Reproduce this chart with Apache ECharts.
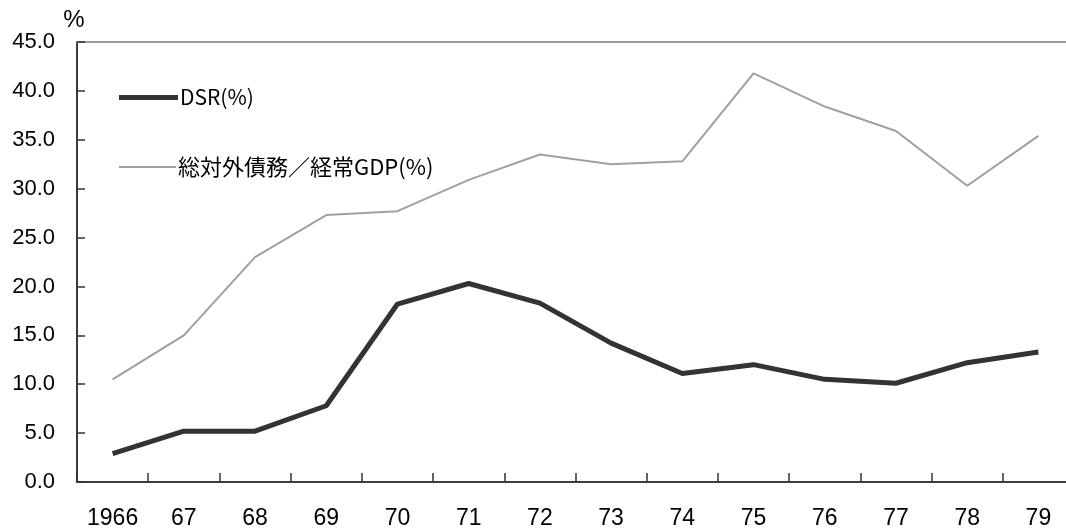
<!DOCTYPE html>
<html>
<head>
<meta charset="utf-8">
<script src="https://cdn.jsdelivr.net/npm/echarts@6/dist/echarts.min.js"></script>
<style>
  html, body { margin: 0; padding: 0; background: #fff; }
  #chart { width: 1066px; height: 530px; }
</style>
</head>
<body>
<div id="chart"></div>
<script>
  // 年 (1966〜79)
  const years = ['1966', '67', '68', '69', '70', '71', '72', '73', '74', '75', '76', '77', '78', '79'];
  // DSR(%)
  const dsr = [2.9, 5.2, 5.2, 7.8, 18.2, 20.3, 18.3, 14.2, 11.1, 12.0, 10.5, 10.1, 12.2, 13.3];
  // 総対外債務/経常GDP(%)
  const debtGdp = [10.5, 15.0, 23.0, 27.3, 27.7, 30.9, 33.5, 32.5, 32.8, 41.8, 38.4, 35.9, 30.3, 35.4];

  const cjk = '"Noto Sans CJK JP", sans-serif';
  const num = '"Liberation Sans", Arial, sans-serif';
  let myChart = echarts.init(document.getElementById('chart'));
  let option = {
    backgroundColor: '#fff',
    animation: false,
    textStyle: { fontFamily: cjk },
    grid: { left: 77, top: 42, width: 997, height: 440, outerBoundsMode: 'none', containLabel: false },
    legend: [
      {
        data: ['DSR(%)'],
        left: 114, top: 82,
        icon: 'rect', itemWidth: 59, itemHeight: 5, itemGap: 0,
        textStyle: { fontSize: 21, color: '#000', fontFamily: cjk, padding: [0, 0, 0, -3] }
      },
      {
        data: ['総対外債務／経常GDP(%)'],
        left: 114, top: 151,
        icon: 'rect', itemWidth: 57, itemHeight: 2, itemGap: 0,
        textStyle: { fontSize: 22, color: '#000', fontFamily: cjk, padding: [0, 0, 0, -3] }
      }
    ],
    xAxis: [
      {
        type: 'category',
        data: years,
        boundaryGap: true,
        axisLine: { lineStyle: { color: '#3c3c3c', width: 2 } },
        axisTick: { show: true, inside: true, interval: 0, length: 9, lineStyle: { color: '#333', width: 1.5 } },
        axisLabel: { color: '#000', fontSize: 23, margin: 25, interval: 0, hideOverlap: false, fontFamily: num }
      },
      {
        type: 'category',
        data: years,
        position: 'top',
        axisLine: { lineStyle: { color: '#999', width: 2 } },
        axisTick: { show: false },
        axisLabel: { show: false }
      }
    ],
    yAxis: {
      type: 'value',
      min: 0, max: 45, interval: 5,
      name: '%',
      nameLocation: 'end',
      nameGap: 10,
      nameTextStyle: { color: '#000', fontSize: 24, fontFamily: num, align: 'center', padding: [0, 0, 0, -6] },
      axisLine: { show: true, lineStyle: { color: '#3c3c3c', width: 2 } },
      axisTick: { show: true, inside: true, length: 8, lineStyle: { color: '#333', width: 1.5 } },
      splitLine: { show: false },
      axisLabel: {
        color: '#000', fontSize: 22, margin: 22, fontFamily: num,
        formatter: function (v) { return v.toFixed(1); }
      }
    },
    series: [
      {
        name: 'DSR(%)',
        type: 'line',
        data: dsr,
        symbol: 'none',
        lineStyle: { color: '#333', width: 5 },
        itemStyle: { color: '#333' }
      },
      {
        name: '総対外債務／経常GDP(%)',
        type: 'line',
        data: debtGdp,
        symbol: 'none',
        lineStyle: { color: '#a0a0a0', width: 2 },
        itemStyle: { color: '#a0a0a0' }
      }
    ]
  };
  myChart.setOption(option);
</script>
</body>
</html>
